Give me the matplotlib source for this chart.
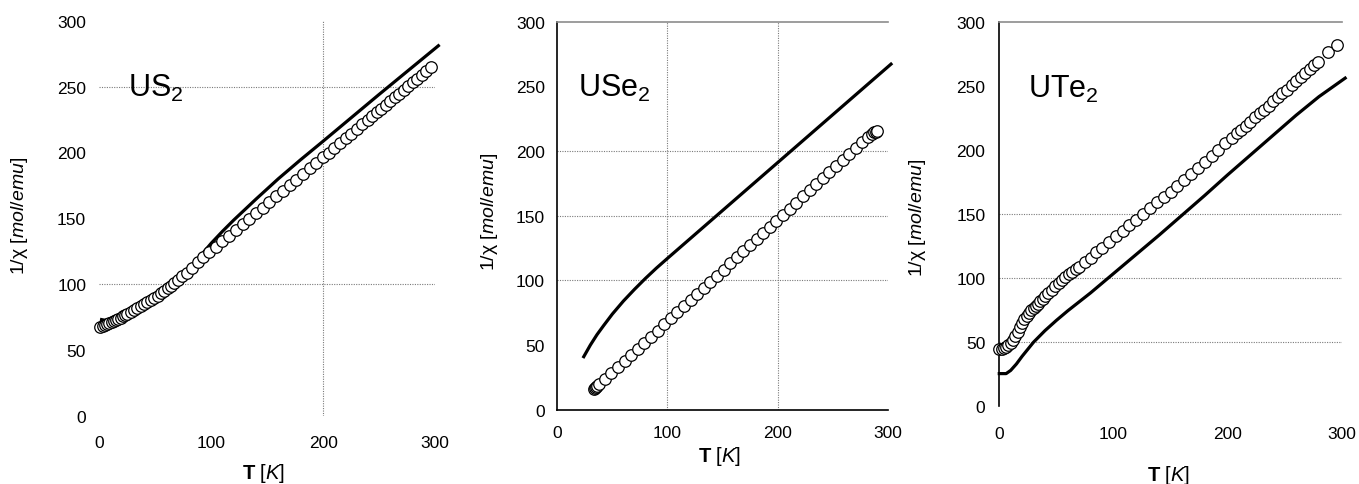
import matplotlib
matplotlib.use('Agg')
import matplotlib.pyplot as plt

plt.rcParams['font.family'] = ['Liberation Sans', 'DejaVu Sans']
plt.rcParams['mathtext.fontset'] = 'custom'
plt.rcParams['mathtext.rm'] = 'Liberation Sans'
plt.rcParams['mathtext.it'] = 'Liberation Sans:italic'
plt.rcParams['mathtext.bf'] = 'Liberation Sans:bold'

# --- US2 ---
us2_T = [1, 3, 5, 7, 9, 11, 13, 15, 17, 19, 21, 23, 25, 28, 31, 34, 37, 40, 43, 46,
         49, 52, 55, 58, 61, 64, 67, 70, 74, 78, 83, 88, 93, 98, 104, 110, 116, 122,
         128, 134, 140, 146, 152, 158, 164, 170, 176, 182, 188, 194, 200, 205, 210,
         215, 220, 225, 230, 235, 240, 244, 248, 252, 256, 260, 264, 268, 272, 276,
         280, 284, 288, 292, 296]
us2_inv_chi = [67.4, 68.0, 68.8, 69.5, 70.2, 70.9, 71.8, 72.7, 73.6, 74.5, 75.4, 76.3,
               77.2, 78.6, 80.0, 81.5, 83.0, 84.5, 86.1, 87.8, 89.4, 91.2, 93.0, 94.8,
               96.7, 98.8, 100.9, 103.0, 105.8, 108.6, 112.4, 116.4, 120.3, 124.0,
               128.3, 132.6, 136.8, 141.1, 145.3, 149.6, 153.8, 158.1, 162.3, 166.6,
               170.8, 175.1, 179.4, 183.6, 187.9, 192.1, 196.4, 199.9, 203.5, 207.0,
               210.6, 214.1, 217.7, 221.2, 224.8, 227.6, 230.5, 233.3, 236.1, 239.0,
               241.8, 244.7, 247.5, 250.3, 253.2, 256.0, 258.9, 261.7, 264.5]
us2_calc_T = [2, 8, 15, 25, 35, 45, 55, 65, 70, 80, 90, 100, 110, 120, 140, 160, 180,
              200, 250, 303]
us2_calc = [73, 72, 73.5, 77.5, 82, 87, 93, 100, 103.5, 110, 121, 131, 140, 148.5,
            164.5, 180, 194.5, 208.5, 244, 281]

# --- USe2 ---
use2_T = [33, 34, 35, 36, 38, 43, 49, 55, 61, 67, 73, 79, 85, 91, 97, 103, 109, 115,
          121, 127, 133, 139, 145, 151, 157, 163, 169, 175, 181, 187, 193, 199, 205,
          211, 217, 223, 229, 235, 241, 247, 253, 259, 265, 271, 277, 282, 286, 288,
          289, 290]
use2_inv_chi = [15.7, 16.5, 17.3, 18.1, 19.6, 23.6, 28.3, 33.0, 37.7, 42.4, 47.1, 51.8,
                56.5, 61.2, 66.0, 70.7, 75.4, 80.1, 84.8, 89.5, 94.2, 98.9, 103.6,
                108.3, 113.1, 117.8, 122.5, 127.2, 131.9, 136.6, 141.3, 146.0, 150.7,
                155.4, 160.2, 164.9, 169.6, 174.3, 179.0, 183.7, 188.4, 193.1, 197.8,
                202.5, 207.3, 211.2, 213.5, 214.5, 215.0, 215.5]
use2_calc_T = [24, 30, 36, 42, 50, 60, 70, 80, 90, 100, 120, 140, 160, 180, 200, 220,
               240, 260, 280, 303]
use2_calc = [41, 50, 58, 65, 74, 84, 93, 101.5, 109.5, 117, 131.8, 146.6, 161.4, 176.2,
             191, 205.8, 220.6, 235.4, 250.2, 267.2]

# --- UTe2 ---
ute2_T = [0, 2, 4, 6, 8, 10, 12, 14, 16, 18, 20, 22, 24, 26, 28, 30, 32, 34, 36, 38,
          40, 43, 46, 49, 52, 55, 58, 61, 64, 67, 70, 75, 80, 85, 90, 96, 102, 108,
          114, 120, 126, 132, 138, 144, 150, 156, 162, 168, 174, 180, 186, 192, 198,
          204, 208, 212, 216, 220, 224, 228, 232, 236, 240, 244, 248, 252, 256, 260,
          264, 268, 272, 276, 279, 288, 296]
ute2_inv_chi = [44.5, 45.0, 45.5, 46.5, 47.5, 49.0, 51.5, 54.5, 58.0, 61.5, 65.0, 68.0,
                70.5, 73.0, 75.0, 77.0, 78.5, 80.0, 82.0, 84.0, 86.0, 88.5, 91.0, 93.5,
                96.0, 98.5, 101.0, 103.0, 105.0, 107.0, 109.0, 112.5, 116.0, 120.0,
                123.5, 128.0, 132.5, 137.0, 141.5, 145.5, 150.0, 154.5, 159.0, 163.0,
                167.5, 172.2, 176.9, 181.5, 186.2, 190.9, 195.6, 200.3, 205.0, 209.6,
                212.8, 215.9, 219.0, 222.1, 225.3, 228.4, 231.5, 234.6, 237.8, 240.9,
                244.0, 247.1, 250.3, 253.4, 256.5, 259.6, 262.8, 265.9, 268.2, 276.5,
                281.5]
ute2_calc_T = [0, 6, 10, 15, 20, 30, 40, 50, 60, 70, 80, 90, 100, 120, 140, 160, 180,
               200, 220, 240, 260, 280, 303]
ute2_calc = [25.5, 25.5, 28, 33, 39, 50, 59, 67, 74.5, 81.5, 88.5, 96, 103.5, 118.5,
             133.5, 149, 164.5, 180.5, 196, 211.5, 227, 241.5, 256]

xticks = [0, 100, 200, 300]
yticks = [0, 50, 100, 150, 200, 250, 300]

GRID = dict(color='#7a7a7a', linestyle=(0, (1, 1.2)), linewidth=0.8, zorder=0)

fig = plt.figure(figsize=(13.59, 4.85), dpi=100)


def setup(rect, hgrid, vgrid, left_spine, bottom_spine, top_line, xpad, ypad):
    ax = fig.add_axes(rect)
    ax.set_xlim(0, 300)
    ax.set_ylim(0, 300)
    ax.set_xticks(xticks)
    ax.set_yticks(yticks)
    ax.tick_params(length=0, labelsize=12.5, colors='black')
    ax.tick_params(axis='x', pad=xpad)
    ax.tick_params(axis='y', pad=ypad)
    for s in ax.spines.values():
        s.set_visible(False)
    if left_spine:
        ax.spines['left'].set_visible(True)
        ax.spines['left'].set_linewidth(1.2)
    if bottom_spine:
        ax.spines['bottom'].set_visible(True)
        ax.spines['bottom'].set_linewidth(1.2)
    if top_line:
        ax.spines['top'].set_visible(True)
        ax.spines['top'].set_color('#8c8c8c')
        ax.spines['top'].set_linewidth(1.2)
    for y in hgrid:
        ax.axhline(y, **GRID)
    for x in vgrid:
        ax.axvline(x, **GRID)
    return ax


def draw(ax, T, v, cT, c):
    ax.plot(cT, c, color='black', lw=2.3, clip_on=False, zorder=3)
    ax.plot(T, v, linestyle='none', marker='o', ms=8.3, mfc='white', mec='black',
            mew=0.9, clip_on=False, zorder=4)


ax1 = setup([0.0731, 0.1408, 0.2470, 0.8144], [100, 250], [200], False, False, False, 14, 9.5)
draw(ax1, us2_T, us2_inv_chi, us2_calc_T, us2_calc)

ax2 = setup([0.4101, 0.1532, 0.2431, 0.8000], [100, 150, 200], [100, 200], True, True, True, 11, 9)
draw(ax2, use2_T, use2_inv_chi, use2_calc_T, use2_calc)

ax3 = setup([0.7353, 0.1602, 0.2520, 0.7930], [50, 100, 150], [], True, False, True, 14.5, 10)
draw(ax3, ute2_T, ute2_inv_chi, ute2_calc_T, ute2_calc)

H = 485.0
W = 1359.0

# compound names
for x, y, name in [(128, 97, r'US$_2$'), (578, 97, r'USe$_2$'), (1028, 98, r'UTe$_2$')]:
    fig.text(x / W, 1 - y / H, name, fontsize=22, ha='left', va='baseline')

# axis labels
xlab = r'$\mathbf{T}\ \mathit{[K]}$'
for x, y in [(264, 474), (720, 457), (1169, 476)]:
    fig.text(x / W, 1 - y / H, xlab, fontsize=14.5, ha='center', va='center')

ylab = r'1/χ $\mathit{[mol/emu]}$'
for x, y in [(20, 216), (490, 212), (918, 218)]:
    fig.text(x / W, 1 - y / H, ylab, fontsize=14, ha='center', va='center',
             rotation=90)

fig.savefig('out.png', dpi=100)
